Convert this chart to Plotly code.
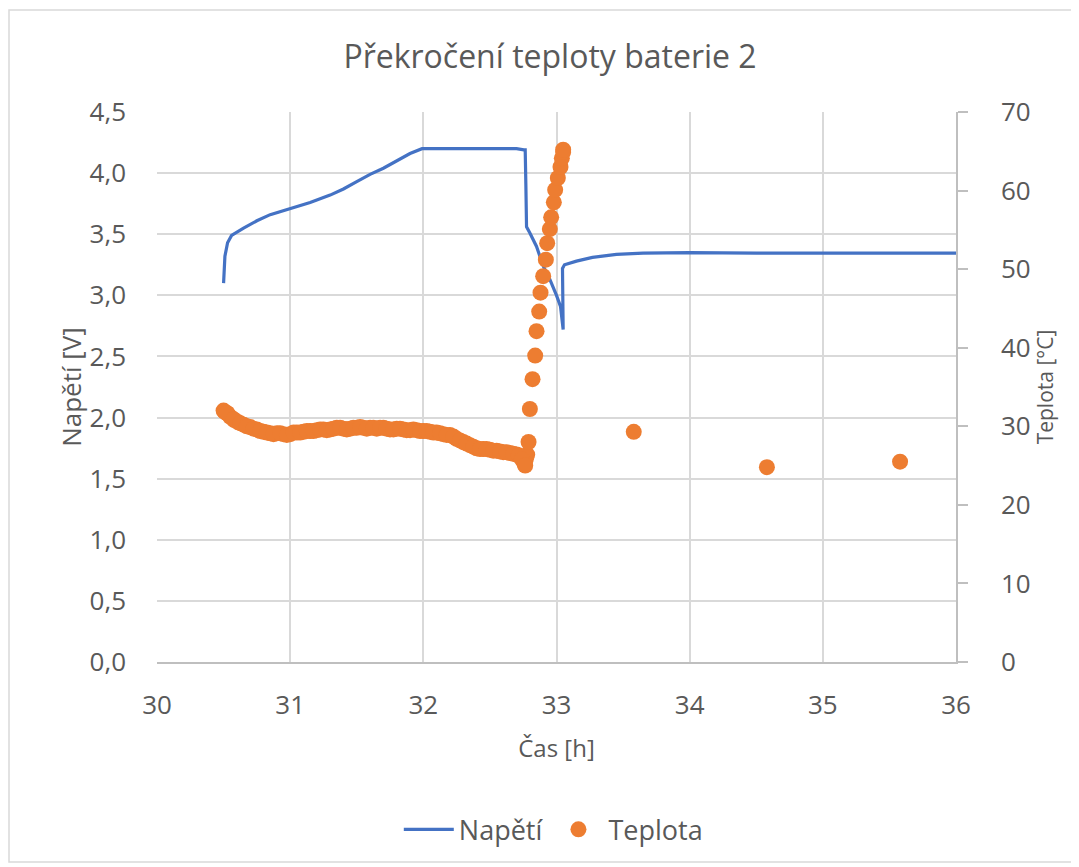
import plotly.graph_objects as go

# Voltage series (time [h], voltage [V])
volt_time = [30.50, 30.51, 30.53, 30.56, 30.65, 30.75, 30.85, 31.00, 31.15, 31.30,
             31.40, 31.50, 31.60, 31.70, 31.82, 31.90, 31.99, 32.30, 32.60, 32.70,
             32.755, 32.765, 32.77, 32.775, 32.80, 32.85, 32.90, 32.95, 33.00, 33.03,
             33.05, 33.05, 33.045, 33.06, 33.15, 33.27, 33.45, 33.65, 34.00, 34.50,
             35.00, 35.50, 36.00]
volt_value = [3.10, 3.32, 3.43, 3.49, 3.55, 3.61, 3.66, 3.71, 3.76, 3.82,
              3.87, 3.93, 3.99, 4.04, 4.11, 4.16, 4.20, 4.20, 4.20, 4.20,
              4.19, 4.19, 3.90, 3.56, 3.51, 3.40, 3.24, 3.13, 3.00, 2.91,
              2.72, 3.18, 3.22, 3.25, 3.28, 3.31, 3.335, 3.345, 3.35, 3.345,
              3.345, 3.345, 3.345]

# Temperature series (time [h], temperature [°C]) - main readings
temp_time = [30.50, 30.51, 30.53, 30.55, 30.58, 30.61, 30.65, 30.70, 30.75, 30.80,
             30.85, 30.90, 30.95, 31.00, 31.05, 31.10, 31.15, 31.20, 31.25, 31.30,
             31.35, 31.40, 31.45, 31.50, 31.55, 31.60, 31.65, 31.70, 31.75, 31.80,
             31.85, 31.90, 31.95, 32.00, 32.05, 32.10, 32.15, 32.20, 32.25, 32.30,
             32.35, 32.40, 32.45, 32.50, 32.55, 32.60, 32.65, 32.70, 32.73, 32.75,
             32.76, 32.77, 32.78,
             32.79, 32.80, 32.82, 32.84, 32.85, 32.87, 32.88, 32.90, 32.92, 32.93,
             32.95, 32.96, 32.98, 32.99, 33.01, 33.03, 33.04, 33.05, 33.05,
             33.58, 34.58, 35.58]
temp_value = [32.0, 31.8, 31.6, 31.2, 30.8, 30.5, 30.2, 29.9, 29.6, 29.3,
              29.1, 29.1, 29.0, 29.0, 29.2, 29.3, 29.4, 29.5, 29.6, 29.6,
              29.8, 29.7, 29.7, 29.8, 29.8, 29.8, 29.7, 29.8, 29.6, 29.7,
              29.6, 29.5, 29.5, 29.4, 29.3, 29.2, 29.0, 28.9, 28.4, 28.0,
              27.6, 27.2, 27.1, 27.0, 26.9, 26.7, 26.6, 26.4, 26.1, 25.6,
              25.2, 25.8, 26.4,
              28.0, 32.2, 36.0, 39.0, 42.1, 44.6, 47.0, 49.1, 51.2, 53.3,
              55.1, 56.6, 58.5, 60.1, 61.6, 63.0, 64.1, 64.9, 65.2,
              29.3, 24.8, 25.5]

# Additional temperature readings in the densely sampled part
temp_time_dense = [30.525, 30.575, 30.625, 30.675, 30.725, 30.775, 30.825, 30.875, 30.925, 30.975,
                   31.025, 31.075, 31.125, 31.175, 31.225, 31.275, 31.325, 31.375, 31.425, 31.475,
                   31.525, 31.575, 31.625, 31.675, 31.725, 31.775, 31.825, 31.875, 31.925, 31.975,
                   32.025, 32.075, 32.125, 32.175, 32.225, 32.275, 32.325, 32.375, 32.425, 32.475,
                   32.525, 32.575, 32.625, 32.675, 32.715, 32.74, 32.765]
temp_value_dense = [31.7, 30.9, 30.4, 30.0, 29.7, 29.4, 29.2, 29.0, 29.1, 28.9,
                    29.2, 29.2, 29.4, 29.4, 29.6, 29.5, 29.7, 29.8, 29.6, 29.8,
                    29.9, 29.7, 29.8, 29.8, 29.7, 29.6, 29.7, 29.5, 29.6, 29.4,
                    29.4, 29.2, 29.1, 28.9, 28.7, 28.2, 27.8, 27.4, 27.1, 27.1,
                    26.9, 26.8, 26.7, 26.5, 26.3, 25.8, 25.0]

x_ticks = [30, 31, 32, 33, 34, 35, 36]

GREY = "#595959"
FONT = "Open Sans"

fig = go.Figure()
fig.add_trace(go.Scatter(x=volt_time, y=volt_value, mode="lines", name="Napětí",
                         line=dict(color="#4472C4", width=3.2), yaxis="y"))
fig.add_trace(go.Scatter(x=temp_time + temp_time_dense, y=temp_value + temp_value_dense,
                         mode="markers", name="Teplota",
                         marker=dict(color="#ED7D31", size=16), yaxis="y2"))

fig.update_layout(
    width=1079, height=867,
    margin=dict(l=149, r=131, t=104, b=213),
    paper_bgcolor="white", plot_bgcolor="white",
    separators=", ",
    font=dict(family=FONT, color=GREY, size=26),
    title=dict(text="Překročení teploty baterie 2", x=(550 - 8) / 1079, xanchor="center",
               y=1 - 49 / 867, yanchor="middle", yref="container", xref="container",
               font=dict(size=32, color=GREY, family=FONT)),
    xaxis=dict(range=[30, 36], tickvals=x_ticks, showgrid=True, gridcolor="#d9d9d9",
               gridwidth=1.5, showline=True, linecolor="#bfbfbf", linewidth=1.5,
               zeroline=False, ticks="", ticklabelstandoff=19,
               tickfont=dict(size=26, color=GREY),
               title=dict(text="Čas [h]", standoff=19, font=dict(size=24, color=GREY))),
    yaxis=dict(range=[0, 4.5], dtick=0.5, tickformat=".1f", showgrid=True,
               gridcolor="#d9d9d9", gridwidth=1.5, zeroline=False, showline=False,
               ticks="", ticklabelstandoff=30, tickfont=dict(size=26, color=GREY),
               title=dict(text="Napětí [V]", standoff=0, font=dict(size=26, color=GREY))),
    yaxis2=dict(range=[0, 70], dtick=10, overlaying="y", side="right", showgrid=False,
                zeroline=False, showline=True, linecolor="#bfbfbf", linewidth=1.5,
                ticks="outside", ticklen=10, tickcolor="#bfbfbf", tickwidth=1.5,
                ticklabelstandoff=28, tickfont=dict(size=26, color=GREY),
                title=dict(text="Teplota [°C]", standoff=8, font=dict(size=21, color=GREY))),
    legend=dict(orientation="h", x=0.496, xanchor="center", y=-0.305, yanchor="middle",
                font=dict(size=27, color=GREY), itemwidth=50, bgcolor="rgba(0,0,0,0)"),
    showlegend=True,
)

fig.add_shape(type="rect", xref="paper", yref="paper",
              x0=(9 - 157) / 799, x1=(1075 - 157) / 799,
              y0=(662 - 862) / 550, y1=(662 - 10) / 550,
              line=dict(color="#d9d9d9", width=1.5), fillcolor="rgba(0,0,0,0)",
              layer="below")

fig.write_html("out.html")
